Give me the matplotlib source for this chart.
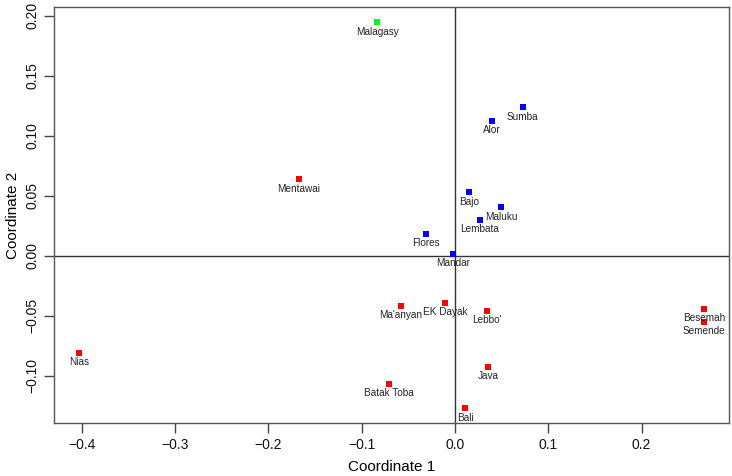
import matplotlib
matplotlib.use("Agg")
import matplotlib.pyplot as plt

# MDS coordinates
names = ["Malagasy", "Sumba", "Alor", "Bajo", "Maluku", "Lembata", "Flores", "Mandar",
         "Mentawai", "Nias", "Ma'anyan", "EK Dayak", "Lebbo'", "Besemah", "Semende",
         "Java", "Batak Toba", "Bali"]
coord1 = [-0.0833, 0.0725, 0.0397, 0.0154, 0.0493, 0.0268, -0.0314, -0.0021,
          -0.1675, -0.403, -0.0582, -0.0104, 0.034, 0.2669, 0.2669,
          0.0357, -0.0707, 0.0111]
coord2 = [0.1945, 0.1237, 0.1125, 0.0528, 0.0403, 0.0298, 0.0181, 0.0017,
          0.0637, -0.0808, -0.0417, -0.0392, -0.0461, -0.0442, -0.0553,
          -0.0925, -0.1069, -0.1272]
groups = ["green", "blue", "blue", "blue", "blue", "blue", "blue", "blue",
          "red", "red", "red", "red", "red", "red", "red",
          "red", "red", "red"]
group_colors = {"red": "#ff0000", "blue": "#0000ff", "green": "#00ff00"}

plt.rcParams["font.family"] = ["Liberation Sans", "DejaVu Sans"]

fig = plt.figure(figsize=(7.32, 4.76), dpi=100)
ax = fig.add_axes([0.0738, 0.1107, 0.9225, 0.8752])

ax.axhline(0, color="#333333", lw=1, zorder=1)
ax.axvline(0, color="#333333", lw=1, zorder=1)

ax.scatter(coord1, coord2, marker="s", s=18, c=[group_colors[g] for g in groups],
           linewidths=0, zorder=3)
for n, x, y in zip(names, coord1, coord2):
    ax.annotate(n, (x, y), xytext=(0, -9.3), textcoords="offset pixels",
                ha="center", va="center", fontsize=7.2, color="#222222", zorder=4)

ax.set_xlim(-0.4298, 0.294)
ax.set_ylim(-0.1397, 0.2075)
ax.set_xticks([-0.4, -0.3, -0.2, -0.1, 0.0, 0.1, 0.2])
ax.set_xticklabels(["\u22120.4", "\u22120.3", "\u22120.2", "\u22120.1", "0.0", "0.1", "0.2"])
ax.set_yticks([-0.10, -0.05, 0.00, 0.05, 0.10, 0.15, 0.20])
ax.set_yticklabels(["\u22120.10", "\u22120.05", "0.00", "0.05", "0.10", "0.15", "0.20"],
                   rotation=90, va="center")
ax.tick_params(direction="out", length=7, width=1, colors="#444444",
               labelcolor="#111111", labelsize=10)
for s in ax.spines.values():
    s.set_color("#555555")
    s.set_linewidth(1)

ax.set_xlabel("Coordinate 1", fontsize=11, labelpad=6)
ax.set_ylabel("Coordinate 2", fontsize=11, labelpad=4)

fig.savefig("out.png", dpi=100)
